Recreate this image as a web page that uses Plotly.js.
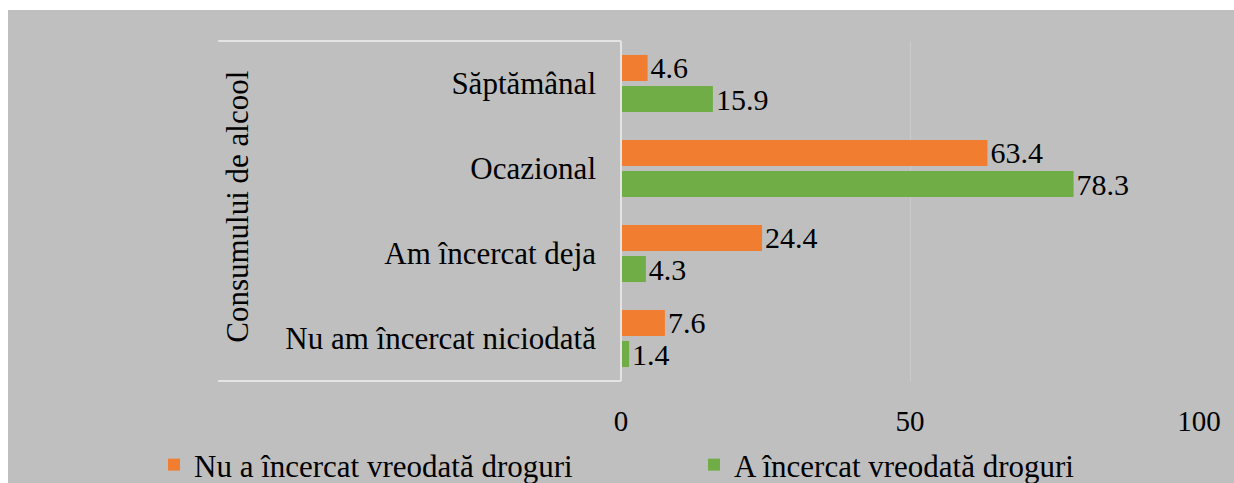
<!DOCTYPE html>
<html>
<head>
<meta charset="utf-8">
<script src="https://cdn.plot.ly/plotly-3.0.1.min.js"></script>
<style>
  html, body { margin: 0; padding: 0; background: #ffffff; width: 1234px; height: 483px; overflow: hidden; position: relative; }
  #chart { position: absolute; left: 8px; top: 10px; width: 1226px; height: 500px; }
  #chart svg text { font-family: 'Liberation Serif', 'Times New Roman', serif !important; }
</style>
</head>
<body>
<div id="chart"></div>
<script>
const categories = ['Săptămânal', 'Ocazional', 'Am încercat deja', 'Nu am încercat niciodată'];
const seriesNames = ['Nu a încercat vreodată droguri', 'A încercat vreodată droguri'];
const neverTried = [4.6, 63.4, 24.4, 7.6];
const tried = [15.9, 78.3, 4.3, 1.4];
const xTicks = [0, 50, 100];
const axisTitle = 'Consumului de alcool';

const traces = [
  {
    type: 'bar', orientation: 'h', name: seriesNames[0],
    y: categories, x: neverTried,
    text: neverTried.map(v => v.toFixed(1)), textposition: 'outside', constraintext: 'none',
    textfont: {family: 'Liberation Serif', size: 30, color: '#000'},
    marker: {color: '#F17E30'}, cliponaxis: false
  },
  {
    type: 'bar', orientation: 'h', name: seriesNames[1],
    y: categories, x: tried,
    text: tried.map(v => v.toFixed(1)), textposition: 'outside', constraintext: 'none',
    textfont: {family: 'Liberation Serif', size: 30, color: '#000'},
    marker: {color: '#70AD47'}, cliponaxis: false
  }
];

const layout = {
  width: 1226, height: 500,
  paper_bgcolor: '#BFBFBF', plot_bgcolor: '#BFBFBF',
  margin: {l: 613, r: 35, t: 31, b: 129},
  font: {family: 'Liberation Serif', size: 30, color: '#000'},
  barmode: 'group', bargap: 0.27, bargroupgap: 0.16,
  showlegend: true,
  legend: {
    orientation: 'h', x: -0.756, xanchor: 'left', y: -0.247, yanchor: 'middle',
    font: {family: 'Liberation Serif', size: 31, color: '#000'},
    bgcolor: 'rgba(0,0,0,0)', entrywidth: 495, entrywidthmode: 'pixels'
  },
  xaxis: {
    range: [0, 100], tickvals: xTicks, ticktext: xTicks.map(String),
    showgrid: true, gridcolor: '#CBCBCB', gridwidth: 1,
    zeroline: false, showline: false, ticks: '', automargin: false,
    ticklabelstandoff: 20,
    tickfont: {family: 'Liberation Serif', size: 29, color: '#000'}
  },
  yaxis: {
    type: 'category', categoryorder: 'array', categoryarray: categories,
    autorange: 'reversed', showgrid: false, zeroline: false, automargin: false,
    showline: false, ticks: '', ticklabelstandoff: 24,
    tickfont: {family: 'Liberation Serif', size: 31, color: '#000'}
  },
  shapes: [
    {type: 'line', xref: 'paper', yref: 'paper', x0: -0.697, x1: 0, y0: 1, y1: 1,
     line: {color: '#E4E4E4', width: 2}},
    {type: 'line', xref: 'paper', yref: 'paper', x0: -0.697, x1: 0, y0: 0, y1: 0,
     line: {color: '#E4E4E4', width: 2}},
    {type: 'line', xref: 'paper', yref: 'paper', x0: 0, x1: 0, y0: 0, y1: 1,
     line: {color: '#E4E4E4', width: 2}}
  ],
  annotations: [
    {text: axisTitle, xref: 'paper', yref: 'paper', x: -0.664, y: 0.513,
     xanchor: 'center', yanchor: 'middle', textangle: -90, showarrow: false,
     font: {family: 'Liberation Serif', size: 31, color: '#000'}}
  ]
};

Plotly.newPlot('chart', traces, layout, {staticPlot: true});
</script>
</body>
</html>
